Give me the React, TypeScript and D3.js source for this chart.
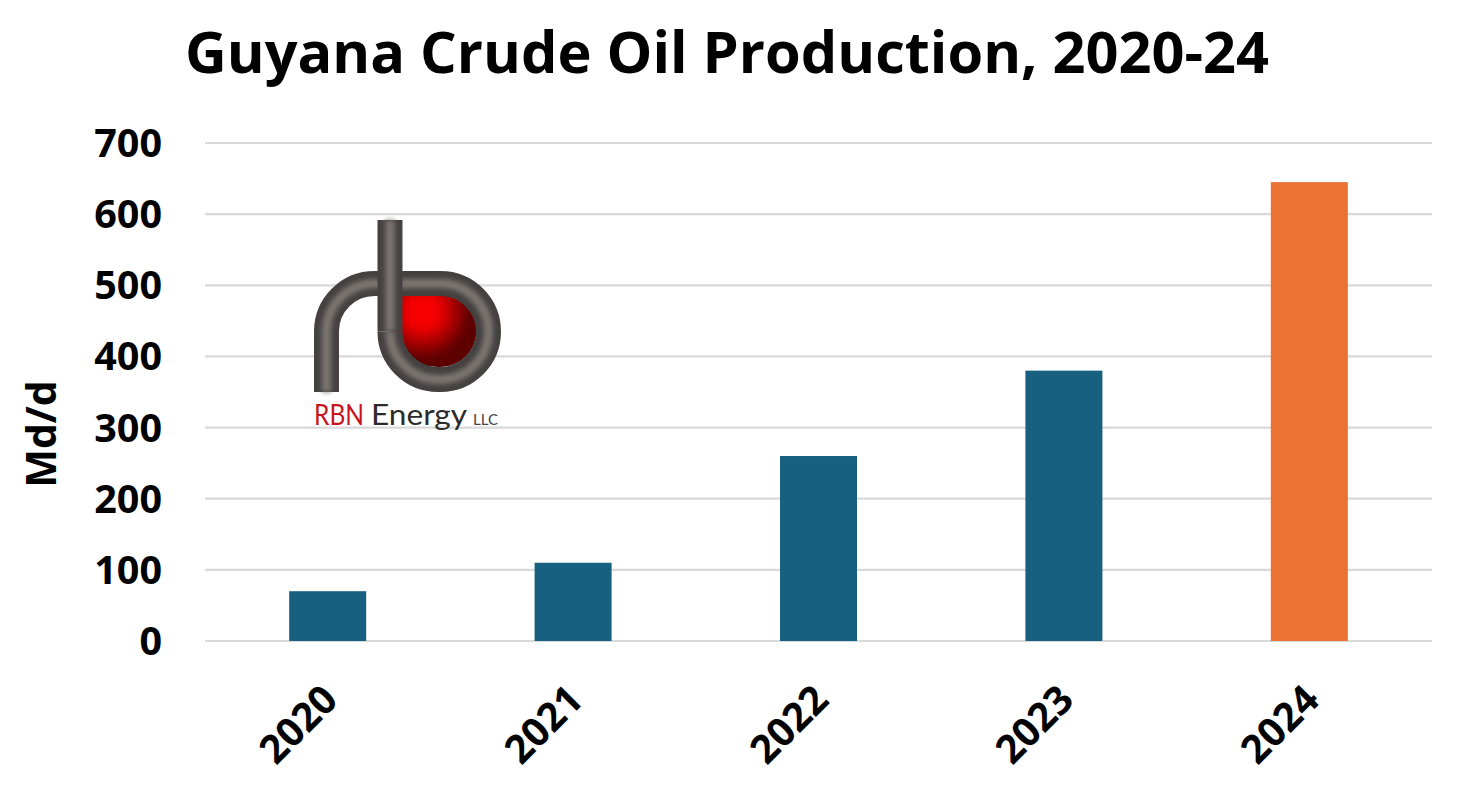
// Guyana crude production bar chart, with the RBN logo drawn in as plain svg
import * as d3 from "d3";
import React from "react";

const YEARS = ["2020", "2021", "2022", "2023", "2024"];
const PRODUCTION = [70, 110, 260, 380, 645];
const Y_TICKS = [0, 100, 200, 300, 400, 500, 600, 700];
const BAR_COLORS = ["#17607f", "#17607f", "#17607f", "#17607f", "#ea7233"];

const WIDTH = 1468;
const HEIGHT = 795;
const FONT = "'Open Sans', sans-serif";
const LOGO_FONT = "Lato, sans-serif";

const x = d3.scaleBand<string>().domain(YEARS).range([205, 1432]);
const y = d3.scaleLinear().domain([0, 700]).range([641, 143]);
const BAR_W = 77;

// logo pipe: the long bend first, then the upright stem on top of it
const TUBE_BEND = "M326.5 392 V331 A48 48 0 0 1 374.5 283.5 H440.5 A48 48 0 0 1 488.5 331.5 A48 48 0 0 1 440.5 379.5 H438 A48 48 0 0 1 390 331.5";
const TUBE_STEM = "M390 331.5 V220";

function Pipe({ d }: { d: string }) {
  return (
    <>
      <path d={d} fill="none" stroke="#444140" strokeWidth={25} />
      <path d={d} fill="none" stroke="#7b7671" strokeWidth={9} filter="url(#soft)" />
    </>
  );
}

function Logo() {
  return (
    <g>
      <defs>
        <radialGradient id="ball" gradientUnits="userSpaceOnUse" cx="423" cy="312" r="54">
          <stop offset="0" stopColor="#ff0000" />
          <stop offset="0.3" stopColor="#ee0000" />
          <stop offset="0.85" stopColor="#640000" />
          <stop offset="1" stopColor="#5c0000" />
        </radialGradient>
        {/* user space units: a straight line has a zero-width bbox, which would kill the blur */}
        <filter id="soft" filterUnits="userSpaceOnUse" x={300} y={210} width={215} height={195}>
          <feGaussianBlur stdDeviation="2.6" />
        </filter>
      </defs>
      <path d="M390 295 H440.5 A36 36 0 0 1 440.5 367 H438 A48 36 0 0 1 390 331 Z" fill="url(#ball)" />
      <Pipe d={TUBE_BEND} />
      <Pipe d={TUBE_STEM} />
      <text x={314} y={425} fontFamily={LOGO_FONT} fontWeight={400} fontSize={29} textLength={50} lengthAdjust="spacingAndGlyphs" fill="#c8141c">RBN</text>
      <text x={371} y={425} fontFamily={LOGO_FONT} fontWeight={400} fontSize={29} textLength={96} lengthAdjust="spacingAndGlyphs" fill="#2b2b2b">Energy</text>
      <text x={473} y={425} fontFamily={LOGO_FONT} fontWeight={400} fontSize={15} textLength={25} lengthAdjust="spacingAndGlyphs" fill="#444444">LLC</text>
    </g>
  );
}

export default function App() {
  return (
    <svg
      width={WIDTH}
      height={HEIGHT}
      viewBox={`0 0 ${WIDTH} ${HEIGHT}`}
      style={{ position: "absolute", left: 0, top: 0, background: "#ffffff" }}
    >
      <text x={727} y={73} textAnchor="middle" fontFamily={FONT} fontWeight={700} fontSize={57.7} fill="#000">
        Guyana Crude Oil Production, 2020-24
      </text>

      {/* gridlines + y labels */}
      {Y_TICKS.map((t) => (
        <g key={t}>
          <line x1={205} x2={1432} y1={y(t)} y2={y(t)} stroke="#d9d9d9" strokeWidth={2.2} />
          <text x={162} y={y(t) + 14} textAnchor="end" fontFamily={FONT} fontWeight={700} fontSize={39.5} fill="#000">
            {t}
          </text>
        </g>
      ))}

      <Logo />

      {YEARS.map((yr, i) => {
        const cx = x(yr)! + x.bandwidth() / 2;
        return (
          <g key={yr}>
            <rect x={cx - BAR_W / 2} y={y(PRODUCTION[i])} width={BAR_W} height={y(0) - y(PRODUCTION[i])} fill={BAR_COLORS[i]} />
            <text
              transform={`translate(${cx - 8},${682}) rotate(-45)`}
              textAnchor="end"
              dy="0.72em"
              fontFamily={FONT}
              fontWeight={700}
              fontSize={39.5}
              fill="#000"
            >
              {yr}
            </text>
          </g>
        );
      })}

      <text transform="translate(56,434) rotate(-90)" textAnchor="middle" fontFamily={FONT} fontWeight={700} fontSize={41} fill="#000">
        Md/d
      </text>
    </svg>
  );
}
